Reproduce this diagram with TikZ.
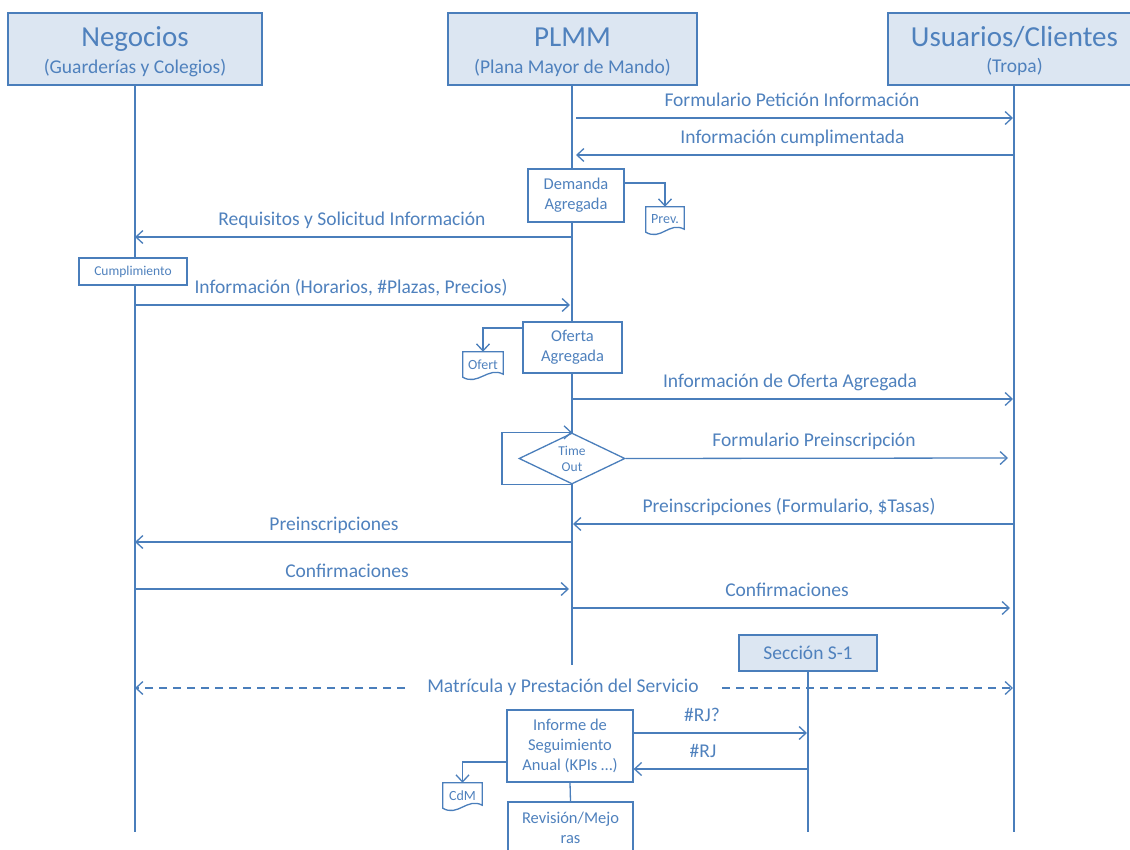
\documentclass[tikz,border=0pt]{standalone}
\usepackage{fontspec}
\setmainfont{Carlito}
\usetikzlibrary{arrows.meta,shapes.geometric}
\definecolor{ln}{HTML}{4A7EBB}
\definecolor{tx}{HTML}{4F81BD}
\definecolor{hd}{HTML}{DCE6F2}
\begin{document}
\begin{tikzpicture}[x=1pt,y=-1pt,
  line/.style={draw=ln,line width=1.3pt},
  msg/.style={line,-{Straight Barb[length=7pt,width=13pt]}},
  dmsg/.style={line,dash pattern=on 8pt off 6pt,-{Straight Barb[length=7pt,width=13pt]}},
  head/.style={line,fill=hd,inner sep=0pt},
  htitle/.style={text=tx,font=\fontsize{29}{32}\selectfont,anchor=base,inner sep=0pt},
  hsub/.style={text=tx,font=\fontsize{19.5}{22}\selectfont,anchor=base,inner sep=0pt},
  lbl/.style={text=tx,font=\fontsize{19.5}{22}\selectfont,anchor=base,inner sep=0pt},
  pbox/.style={line,fill=white,inner sep=0pt,align=center,text=tx,font=\fontsize{16.5}{20}\selectfont},
  docnode/.style={inner sep=0pt,text=tx,font=\fontsize{14}{16}\selectfont},
  docline/.style={line}
]
\useasboundingbox (0,0) rectangle (1130,850);
\clip (0,0) rectangle (1130,850);

% headers
\node[head,minimum width=254pt,minimum height=72pt] (neg) at (135,49) {};
\node[head,minimum width=249pt,minimum height=72pt] (plmm) at (572.5,49) {};
\node[head,minimum width=252pt,minimum height=72pt] (usu) at (1014,49) {};
\node[htitle] (negT) at (135,47) {Negocios};
\node[hsub] (negS) at (135,74) {(Guarderías y Colegios)};
\node[htitle] (plmmT) at (572.5,47) {PLMM};
\node[hsub] (plmmS) at (572.5,74) {(Plana Mayor de Mando)};
\node[htitle] (usuT) at (1014.5,47) {Usuarios/Clientes};
\node[hsub] (usuS) at (1014.5,73) {(Tropa)};

% lifelines
\coordinate (negE) at (135,832);
\coordinate (plmmE) at (572,665);
\coordinate (usuE) at (1014,832);
\draw[line] (neg.south) -- (negE);
\draw[line] (plmm.south -| plmmE) -- (plmmE);
\draw[line] (usu.south) -- (usuE);

% message end points
\coordinate (m1a) at (576,118);  \coordinate (m1b) at (1013,118);
\coordinate (m2a) at (1014,155); \coordinate (m2b) at (576,155);
\coordinate (m3a) at (572,237);  \coordinate (m3b) at (135,237);
\coordinate (m4a) at (135,305);  \coordinate (m4b) at (570,305);
\coordinate (m5a) at (572,399);  \coordinate (m5b) at (1013,399);
\coordinate (m6b) at (1008,458);
\coordinate (m7a) at (1013,524); \coordinate (m7b) at (573,524);
\coordinate (m8a) at (572,542);  \coordinate (m8b) at (135,542);
\coordinate (m9a) at (135,589);  \coordinate (m9b) at (569,589);
\coordinate (m10a) at (572,608); \coordinate (m10b) at (1010,608);

\draw[msg] (m1a) -- (m1b);
\node[lbl] (l1) at (792,106.5) {Formulario Petición Información};
\draw[msg] (m2a) -- (m2b);
\node[lbl] (l2) at (792.5,143.5) {Información cumplimentada};

% Demanda agregada
\node[pbox,minimum width=96pt,minimum height=53pt] (dem) at (576,195.5) {Demanda\\Agregada};
\node[docnode,minimum width=38pt,minimum height=25pt] (prev) at (665,219.5) {Prev.};
\draw[docline] (prev.north west) -- (prev.north east) -- ([yshift=3pt]prev.south east)
  .. controls ([xshift=-15pt,yshift=11pt]prev.south east) and ([xshift=15pt,yshift=-9pt]prev.south west) .. (prev.south west) -- cycle;
\draw[msg] ([yshift=12.5pt]dem.east) -| (prev.north);

\draw[msg] (m3a) -- (m3b);
\node[lbl] (l3) at (352,225.5) {Requisitos y Solicitud Información};

\node[pbox,font=\fontsize{13.5}{16}\selectfont,minimum width=108pt,minimum height=27pt] (cum) at (133,271.5) {Cumplimiento};

\draw[msg] (m4a) -- (m4b);
\node[lbl] (l4) at (351,293.5) {Información (Horarios, \#Plazas, Precios)};

% Oferta agregada
\node[pbox,minimum width=99pt,minimum height=51pt] (ofe) at (572.5,347.5) {Oferta\\Agregada};
\node[docnode,minimum width=40pt,minimum height=25pt] (ofd) at (483,364.5) {Ofert};
\draw[docline] (ofd.north west) -- (ofd.north east) -- ([yshift=3pt]ofd.south east)
  .. controls ([xshift=-15pt,yshift=11pt]ofd.south east) and ([xshift=15pt,yshift=-9pt]ofd.south west) .. (ofd.south west) -- cycle;
\draw[msg] ([yshift=19.5pt]ofe.west) -| (ofd.north);

\draw[msg] (m5a) -- (m5b);
\node[lbl] (l5) at (790,387.5) {Información de Oferta Agregada};

% Time out
\node[diamond,aspect=2,line,fill=white,minimum width=106pt,minimum height=51pt,inner sep=0pt,align=center,text=tx,font=\fontsize{13.5}{16}\selectfont] (tout) at (572,458.5) {Time\\Out};
\draw[msg] (tout.south) -- ++(-70,0) |- (tout.north);
\draw[msg] (tout.east) -- (m6b);
\node[lbl] (l6) at (814,446.5) {Formulario Preinscripción};

\draw[msg] (m7a) -- (m7b);
\node[lbl] (l7) at (789,512.5) {Preinscripciones (Formulario, \$Tasas)};
\draw[msg] (m8a) -- (m8b);
\node[lbl] (l8) at (334,530.5) {Preinscripciones};
\draw[msg] (m9a) -- (m9b);
\node[lbl] (l9) at (347,577.5) {Confirmaciones};
\draw[msg] (m10a) -- (m10b);
\node[lbl] (l10) at (787,596.5) {Confirmaciones};

% Seccion S-1
\node[pbox,fill=hd,font=\fontsize{19.5}{22}\selectfont,minimum width=138pt,minimum height=36pt] (sec) at (808,653) {Sección S-1};
\coordinate (secE) at (808,832);
\draw[line] (sec.south) -- (secE);

% dashed
\coordinate (d1a) at (405,688); \coordinate (d1b) at (135,688);
\coordinate (d2a) at (722,688); \coordinate (d2b) at (1013,688);
\draw[dmsg] (d1a) -- (d1b);
\draw[dmsg] (d2a) -- (d2b);
\node[lbl] (ld) at (563,692) {Matrícula y Prestación del Servicio};

% Informe
\node[pbox,minimum width=126pt,minimum height=72pt] (inf) at (570,746) {Informe de\\Seguimiento\\Anual (KPIs …)};
\coordinate (rj1) at (807,733);
\coordinate (rj2) at (807,769);
\draw[msg] ([yshift=13pt]inf.east) -- (rj1);
\node[lbl] (lrj1) at (702,721) {\#RJ?};
\draw[msg] (rj2) -- ([yshift=-23pt]inf.east);
\node[lbl] (lrj2) at (703,757) {\#RJ};

\node[docnode,minimum width=39pt,minimum height=25pt] (cdm) at (462.5,795.5) {CdM};
\draw[docline] (cdm.north west) -- (cdm.north east) -- ([yshift=3pt]cdm.south east)
  .. controls ([xshift=-15pt,yshift=11pt]cdm.south east) and ([xshift=15pt,yshift=-9pt]cdm.south west) .. (cdm.south west) -- cycle;
\draw[msg] ([yshift=-16pt]inf.west) -| (cdm.north);

\node[pbox,minimum width=125pt,minimum height=52pt] (rev) at (570.5,828) {Revisión/Mejo\\ras};
\draw[line] (inf.south) -- (rev.north);
\end{tikzpicture}
\end{document}
